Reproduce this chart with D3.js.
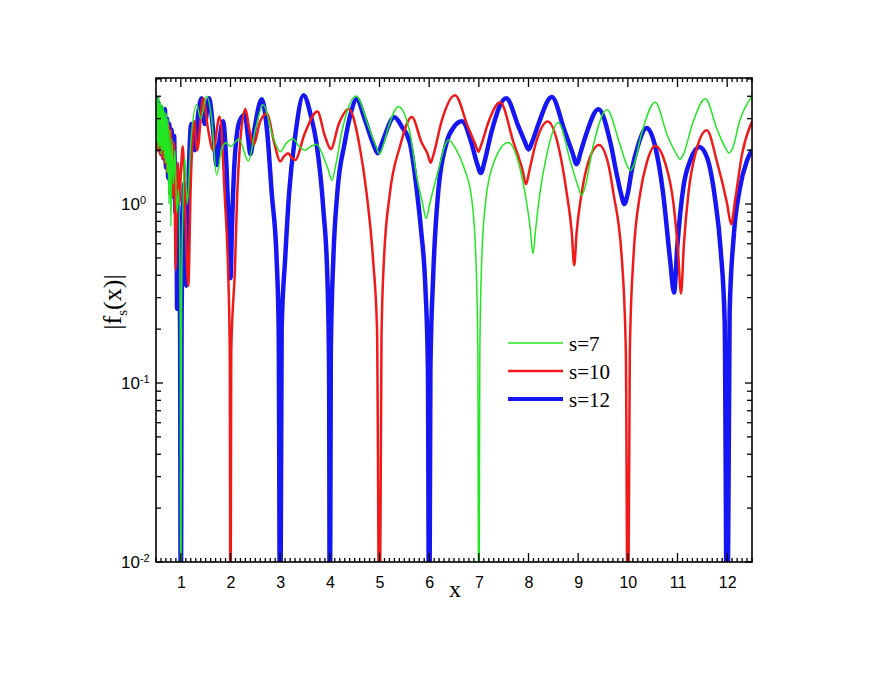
<!DOCTYPE html>
<html>
<head>
<meta charset="utf-8">
<script src="https://cdn.jsdelivr.net/npm/d3@7"></script>
<style>
  body { margin: 0; background: #fff; }
  svg { display: block; }
</style>
</head>
<body>
<svg id="chart"></svg>
<script>
// |f_s(x)| for s = 7, 10, 12 (x, value)
const s7 = [
  [0.50, 4.2], [0.515, 2.2], [0.53, 3.9], [0.545, 2.0], [0.56, 4.0], [0.575, 2.1],
  [0.59, 3.7], [0.605, 1.9], [0.62, 3.6], [0.635, 2.0], [0.65, 3.5], [0.665, 1.8],
  [0.68, 3.3], [0.695, 1.7], [0.71, 3.2], [0.725, 1.5], [0.74, 3.0], [0.76, 1.0],
  [0.78, 2.6], [0.80, 0.75], [0.82, 2.3], [0.85, 1.3], [0.88, 2.0], [0.92, 0.9],
  [0.955, 1.2], [0.985, 0.3], [1.0, 0.002], [1.015, 0.3], [1.04, 0.9], [1.08, 1.8],
  [1.13, 1.0], [1.2, 2.2], [1.32, 3.59], [1.40, 3.0], [1.52, 4.0], [1.62, 3.0],
  [1.72, 1.45], [1.82, 2.0], [1.90, 2.2], [2.0, 2.1], [2.17, 2.31], [2.36, 1.74],
  [2.5, 2.6], [2.66, 3.59], [2.85, 2.4], [3.0, 1.96], [3.13, 2.2], [3.26, 2.31],
  [3.38, 2.1], [3.50, 2.0], [3.62, 2.1], [3.73, 2.16], [3.9, 1.75], [3.97, 1.55],
  [4.04, 1.36], [4.11, 1.6], [4.25, 2.6], [4.53, 4.02], [4.78, 2.7], [4.93, 2.1],
  [5.0, 1.91], [5.07, 2.1], [5.18, 2.7], [5.38, 3.5], [5.6, 2.6], [5.75, 1.42],
  [5.87, 1.0], [5.94, 0.83], [6.01, 1.0], [6.15, 1.42], [6.39, 2.28], [6.55, 2.0],
  [6.7, 1.6], [6.86, 1.05], [6.94, 0.5], [6.98, 0.15], [7.0, 0.002], [7.02, 0.15],
  [7.06, 0.5], [7.14, 1.05], [7.3, 1.7], [7.59, 2.21], [7.8, 1.7], [7.93, 1.15],
  [8.03, 0.75], [8.09, 0.53], [8.15, 0.75], [8.23, 1.15], [8.37, 1.9], [8.6, 2.85],
  [8.85, 1.7], [9.0, 1.25], [9.07, 1.12], [9.14, 1.25], [9.3, 2.1], [9.58, 3.36],
  [9.83, 2.2], [9.98, 1.65], [10.05, 1.54], [10.12, 1.65], [10.28, 2.5], [10.55, 3.70],
  [10.8, 2.4], [10.98, 1.9], [11.05, 1.78], [11.12, 1.9], [11.3, 2.8], [11.56, 3.87],
  [11.8, 2.6], [11.97, 2.05], [12.04, 1.93], [12.11, 2.05], [12.25, 2.9], [12.5, 4.0]
]

const s10 = [
  [0.50, 3.0], [0.525, 2.0], [0.55, 3.2], [0.575, 1.9], [0.60, 3.0], [0.625, 1.8],
  [0.65, 3.1], [0.675, 1.7], [0.70, 2.9], [0.725, 1.5], [0.75, 2.8], [0.775, 1.4],
  [0.80, 2.6], [0.83, 1.1], [0.86, 2.2], [0.88, 0.9], [0.895, 0.43], [0.915, 0.9],
  [0.94, 1.7], [0.97, 1.0], [1.0, 1.5], [1.04, 2.1], [1.09, 0.9], [1.15, 0.35],
  [1.2, 1.3], [1.27, 2.9], [1.33, 2.0], [1.45, 3.9], [1.55, 2.6], [1.65, 2.0],
  [1.78, 3.08], [1.89, 1.03], [1.95, 0.44], [1.985, 0.15], [2.0, 0.002], [2.015, 0.15],
  [2.09, 0.44], [2.13, 1.03], [2.2, 2.3], [2.30, 3.4], [2.38, 2.6], [2.46, 2.14],
  [2.6, 2.9], [2.73, 3.2], [2.88, 2.2], [3.0, 1.73], [3.08, 1.85], [3.16, 1.92],
  [3.23, 1.82], [3.30, 1.76], [3.5, 2.5], [3.75, 3.29], [3.9, 2.4], [4.02, 2.03],
  [4.18, 2.8], [4.38, 3.4], [4.6, 2.1], [4.74, 1.15], [4.87, 0.49], [4.95, 0.2],
  [5.0, 0.002], [5.04, 0.18], [5.09, 0.49], [5.21, 1.15], [5.41, 2.09], [5.65, 3.06],
  [5.85, 2.2], [5.97, 1.9], [6.03, 1.70], [6.09, 1.9], [6.25, 2.9], [6.52, 4.05],
  [6.78, 2.7], [6.93, 2.15], [6.99, 1.96], [7.05, 2.15], [7.2, 2.9], [7.43, 3.70],
  [7.7, 2.2], [7.88, 1.55], [7.95, 1.29], [8.02, 1.55], [8.15, 2.2], [8.39, 2.89],
  [8.62, 2.0], [8.77, 1.15], [8.87, 0.7], [8.92, 0.455], [8.97, 0.7], [9.07, 1.15],
  [9.2, 1.7], [9.42, 2.14], [9.6, 1.7], [9.71, 1.15], [9.88, 0.49], [9.96, 0.15],
  [10.0, 0.002], [10.04, 0.15], [10.11, 0.49], [10.25, 1.15], [10.38, 1.7], [10.55, 2.11],
  [10.75, 1.7], [10.92, 1.0], [11.01, 0.55], [11.07, 0.316], [11.13, 0.6], [11.22, 1.15],
  [11.38, 2.0], [11.59, 2.58], [11.8, 1.7], [12.0, 1.0], [12.08, 0.77], [12.16, 1.05],
  [12.3, 1.9], [12.5, 2.89]
]

const s12 = [
  [0.50, 4.0], [0.52, 2.1], [0.545, 3.7], [0.565, 2.0], [0.59, 3.5], [0.61, 1.9],
  [0.635, 3.3], [0.655, 1.8], [0.68, 3.4], [0.70, 1.6], [0.725, 3.0], [0.745, 1.4],
  [0.77, 2.8], [0.79, 1.15], [0.815, 2.6], [0.84, 1.1], [0.865, 2.4], [0.89, 0.9],
  [0.91, 1.6], [0.925, 0.26], [0.945, 1.0], [0.965, 0.5], [0.985, 0.2], [1.0, 0.002],
  [1.015, 0.2], [1.04, 0.8], [1.07, 1.3], [1.095, 0.6], [1.11, 0.35], [1.13, 0.7],
  [1.16, 1.5], [1.21, 2.8], [1.28, 2.0], [1.35, 3.2], [1.42, 3.9], [1.48, 2.8],
  [1.57, 3.9], [1.65, 2.6], [1.72, 1.65], [1.78, 2.3], [1.85, 2.9], [1.92, 1.6],
  [1.97, 0.7], [2.0, 0.385], [2.03, 0.75], [2.08, 1.7], [2.18, 2.9], [2.29, 3.15],
  [2.35, 2.4], [2.40, 1.9], [2.48, 2.6], [2.63, 3.85], [2.74, 2.5], [2.83, 1.15],
  [2.93, 0.48], [2.97, 0.2], [3.0, 0.002], [3.03, 0.2], [3.1, 0.49], [3.18, 1.15],
  [3.30, 2.37], [3.47, 4.05], [3.62, 3.1], [3.73, 2.2], [3.87, 0.93], [3.95, 0.39],
  [3.985, 0.12], [4.0, 0.002], [4.02, 0.15], [4.07, 0.49], [4.15, 1.15], [4.30, 2.2],
  [4.42, 3.2], [4.54, 3.85], [4.7, 3.0], [4.88, 2.15], [4.97, 1.92], [5.04, 2.15],
  [5.3, 3.05], [5.45, 2.7], [5.61, 2.2], [5.75, 1.2], [5.84, 0.7], [5.92, 0.36],
  [5.975, 0.12], [6.0, 0.002], [6.025, 0.12], [6.08, 0.39], [6.18, 1.15], [6.35, 2.2],
  [6.5, 2.7], [6.66, 2.9], [6.85, 2.2], [6.96, 1.7], [7.04, 1.49], [7.12, 1.75],
  [7.25, 2.5], [7.55, 3.9], [7.8, 2.7], [7.92, 2.25], [8.0, 2.02], [8.08, 2.25],
  [8.2, 2.8], [8.47, 3.96], [8.72, 2.6], [8.88, 1.95], [8.97, 1.67], [9.05, 1.95],
  [9.15, 2.4], [9.41, 3.39], [9.65, 2.2], [9.78, 1.45], [9.86, 1.15], [9.93, 1.0],
  [10.0, 1.15], [10.08, 1.55], [10.2, 2.1], [10.38, 2.66], [10.55, 2.1], [10.71, 1.15],
  [10.85, 0.49], [10.93, 0.32], [11.0, 0.6], [11.12, 1.25], [11.26, 1.76], [11.44, 2.08],
  [11.6, 1.8], [11.75, 1.1], [11.87, 0.55], [11.95, 0.22], [12.0, 0.002], [12.05, 0.25],
  [12.13, 0.65], [12.25, 1.2], [12.4, 1.75], [12.5, 2.0]
]

const xMajor = d3.range(1, 13)
const xMinor = d3.range(5, 126).map(d => d / 10).filter(d => !Number.isInteger(d))
const yDecades = [0.01, 0.1, 1]
const yExponents = ['-2', '-1', '0']
const yMinor = [0.02, 0.03, 0.04, 0.05, 0.06, 0.07, 0.08, 0.09,
  0.2, 0.3, 0.4, 0.5, 0.6, 0.7, 0.8, 0.9, 2, 3, 4, 5]

const series = [
  { label: 's=12', data: s12, color: '#1616f2', width: 4.5 },
  { label: 's=10', data: s10, color: '#f01a1a', width: 2.5 },
  { label: 's=7', data: s7, color: '#22e622', width: 1.5 }
]
const legendOrder = ['s=7', 's=10', 's=12']

const width = 872
const height = 674
const margin = { top: 78, right: 120, bottom: 112, left: 156 }

const svg = d3.select('#chart')
  .attr('width', width)
  .attr('height', height)
  .style('background', '#fff')

const x = d3.scaleLinear().domain([0.5, 12.5]).range([margin.left, width - margin.right])
const y = d3.scaleLog().domain([0.01, 5.06]).range([height - margin.bottom, margin.top])
const plotBottom = height - margin.bottom
const plotRight = width - margin.right

svg.append('defs').append('clipPath').attr('id', 'plot-area')
  .append('rect')
  .attr('x', margin.left)
  .attr('y', margin.top)
  .attr('width', plotRight - margin.left)
  .attr('height', plotBottom - margin.top)

const curve = d3.line()
  .x(d => x(d[0]))
  .y(d => y(d[1]))
  .curve(d3.curveMonotoneX)

const curves = svg.append('g').attr('clip-path', 'url(#plot-area)')
series.forEach(s => {
  curves.append('path')
    .datum(s.data)
    .attr('fill', 'none')
    .attr('stroke', s.color)
    .attr('stroke-width', s.width)
    .attr('stroke-linejoin', 'round')
    .attr('d', curve)
})

svg.append('rect')
  .attr('x', margin.left)
  .attr('y', margin.top)
  .attr('width', plotRight - margin.left)
  .attr('height', plotBottom - margin.top)
  .attr('fill', 'none')
  .attr('stroke', '#000')
  .attr('stroke-width', 1.6)

// inward ticks on all four sides, placed with the scales
const ticks = svg.append('g').attr('stroke', '#000').attr('stroke-width', 1.3)

function xTicks (values, len) {
  ticks.selectAll(null).data(values).enter().append('line')
    .attr('x1', d => x(d)).attr('x2', d => x(d))
    .attr('y1', plotBottom).attr('y2', plotBottom - len)
  ticks.selectAll(null).data(values).enter().append('line')
    .attr('x1', d => x(d)).attr('x2', d => x(d))
    .attr('y1', margin.top).attr('y2', margin.top + len)
}

function yTicks (values, len) {
  ticks.selectAll(null).data(values).enter().append('line')
    .attr('y1', d => y(d)).attr('y2', d => y(d))
    .attr('x1', margin.left).attr('x2', margin.left + len)
  ticks.selectAll(null).data(values).enter().append('line')
    .attr('y1', d => y(d)).attr('y2', d => y(d))
    .attr('x1', plotRight).attr('x2', plotRight - len)
}

xTicks(xMajor, 9)
xTicks(xMinor, 4)
yTicks(yDecades, 7)
yTicks(yMinor, 5)

// x tick labels from the axis generator
const xAxis = svg.append('g')
  .attr('transform', `translate(0,${plotBottom})`)
  .call(d3.axisBottom(x).tickValues(xMajor).tickSize(0).tickPadding(15))
xAxis.select('.domain').remove()
xAxis.selectAll('text')
  .attr('font-family', '"Liberation Sans", Arial, sans-serif')
  .attr('font-size', 16)
  .attr('fill', '#000')

const yLabels = svg.append('g')
  .attr('font-family', '"Liberation Sans", Arial, sans-serif')
  .attr('fill', '#000')
yDecades.forEach((v, i) => {
  const t = yLabels.append('text')
    .attr('x', 121)
    .attr('y', y(v) + 6)
    .attr('font-size', 17)
    .text('10')
  t.append('tspan')
    .attr('dy', -6)
    .attr('font-size', 11)
    .text(yExponents[i])
})

// axis titles
svg.append('text')
  .attr('x', 455)
  .attr('y', 597)
  .attr('text-anchor', 'middle')
  .attr('font-family', '"Liberation Serif", "Times New Roman", serif')
  .attr('font-size', 24)
  .text('x')

const yTitle = svg.append('text')
  .attr('transform', 'translate(121,302) rotate(-90)')
  .attr('text-anchor', 'middle')
  .attr('font-family', '"Liberation Serif", "Times New Roman", serif')
  .attr('font-size', 26)
yTitle.append('tspan').text('|f')
yTitle.append('tspan').attr('font-size', 15).attr('dy', 6).text('s')
yTitle.append('tspan').attr('dy', -6).text('(x)|')

// legend
const legend = svg.append('g').attr('transform', 'translate(508,343)')
legendOrder.forEach((name, i) => {
  const s = series.find(d => d.label === name)
  const row = legend.append('g').attr('transform', `translate(0,${i * 28})`)
  row.append('line')
    .attr('x1', 0)
    .attr('x2', 55)
    .attr('stroke', s.color)
    .attr('stroke-width', Math.min(s.width, 4))
  row.append('text')
    .attr('x', 61)
    .attr('y', 7.5)
    .attr('font-family', '"Liberation Serif", "Times New Roman", serif')
    .attr('font-size', 21)
    .text(s.label)
})
</script>
</body>
</html>
